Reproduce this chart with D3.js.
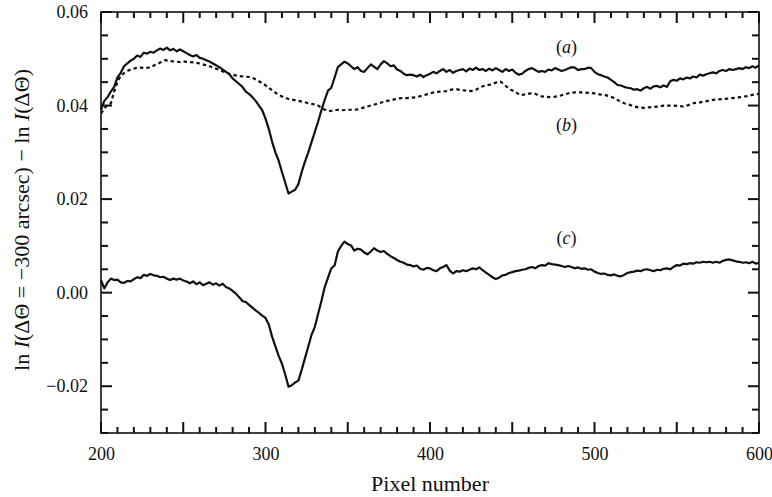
<!DOCTYPE html>
<html>
<head>
<meta charset="utf-8">
<script src="https://cdn.jsdelivr.net/npm/d3@7"></script>
<style>
  html, body { margin: 0; padding: 0; background: #fff; }
  svg { display: block; }
  text { font-family: "Liberation Serif", "Times New Roman", serif; fill: #111; }
</style>
</head>
<body>
<svg id="chart" width="772" height="497"></svg>
<script>
// Pixel grid shared by traces (a) and (c)
const pixelGrid = d3.range(200, 601, 2);

// Trace (a): solid upper curve
const traceA = [
  0.0391,0.0410,0.0418,0.0430,0.0440,0.0460,0.0470,0.0484,0.0490,0.0496,
  0.0500,0.0507,0.0504,0.0513,0.0511,0.0515,0.0513,0.0518,0.0522,0.0519,
  0.0524,0.0518,0.0521,0.0516,0.0520,0.0516,0.0512,0.0508,0.0505,0.0508,
  0.0502,0.0500,0.0497,0.0494,0.0490,0.0486,0.0482,0.0477,0.0472,0.0467,
  0.0458,0.0452,0.0446,0.0440,0.0430,0.0425,0.0418,0.0410,0.0400,0.0390,
  0.0372,0.0350,0.0323,0.0300,0.0282,0.0258,0.0235,0.0212,0.0216,0.0220,
  0.0232,0.0258,0.0280,0.0300,0.0322,0.0344,0.0366,0.0390,0.0412,0.0432,
  0.0438,0.0460,0.0482,0.0488,0.0494,0.0490,0.0484,0.0478,0.0482,0.0474,
  0.0472,0.0480,0.0488,0.0483,0.0478,0.0488,0.0495,0.0490,0.0484,0.0486,
  0.0477,0.0474,0.0468,0.0465,0.0466,0.0465,0.0462,0.0466,0.0461,0.0465,
  0.0468,0.0472,0.0469,0.0474,0.0478,0.0472,0.0476,0.0470,0.0474,0.0476,
  0.0478,0.0473,0.0479,0.0476,0.0481,0.0476,0.0478,0.0474,0.0479,0.0475,
  0.0480,0.0476,0.0472,0.0478,0.0474,0.0477,0.0470,0.0466,0.0468,0.0474,
  0.0478,0.0480,0.0476,0.0472,0.0474,0.0472,0.0477,0.0475,0.0480,0.0477,
  0.0474,0.0476,0.0479,0.0482,0.0481,0.0476,0.0478,0.0478,0.0481,0.0480,
  0.0472,0.0467,0.0465,0.0462,0.0460,0.0455,0.0450,0.0444,0.0443,0.0440,
  0.0438,0.0437,0.0434,0.0435,0.0432,0.0437,0.0440,0.0436,0.0441,0.0442,
  0.0439,0.0443,0.0440,0.0452,0.0455,0.0453,0.0458,0.0456,0.0460,0.0458,
  0.0462,0.0460,0.0466,0.0464,0.0467,0.0469,0.0471,0.0469,0.0474,0.0476,
  0.0474,0.0478,0.0476,0.0478,0.0480,0.0478,0.0482,0.0480,0.0484,0.0481,
  0.0486
];

// Trace (b): dotted curve, sampled at its own pixels
const pixelsB = [
  200,203,206,208,210,212,215,218,221,224,227,230,233,236,239,242,245,248,251,254,
  257,260,263,266,269,272,275,278,281,284,287,290,293,296,299,302,305,308,311,314,
  317,320,323,326,329,332,335,338,341,344,347,350,353,356,359,362,365,368,371,374,
  377,380,383,386,389,392,395,398,401,404,407,410,413,416,419,422,425,428,431,434,
  437,440,443,446,449,452,455,458,461,464,467,470,473,476,479,482,485,488,491,494,
  497,500,503,506,509,512,515,518,521,524,527,530,533,536,539,542,545,548,551,554,
  557,560,563,566,569,572,575,578,581,584,587,590,593,596,600
];
const traceB = [
  0.0383,0.0398,0.0405,0.0430,0.0450,0.0464,0.0472,0.0477,0.0480,0.0481,
  0.0480,0.0482,0.0487,0.0492,0.0497,0.0495,0.0494,0.0493,0.0494,0.0493,
  0.0492,0.0490,0.0487,0.0484,0.0480,0.0476,0.0472,0.0468,0.0465,0.0463,
  0.0462,0.0461,0.0458,0.0452,0.0446,0.0438,0.0430,0.0423,0.0418,0.0414,
  0.0412,0.0410,0.0408,0.0405,0.0403,0.0400,0.0393,0.0388,0.0389,0.0391,
  0.0390,0.0391,0.0391,0.0392,0.0395,0.0398,0.0401,0.0404,0.0407,0.0410,
  0.0412,0.0415,0.0416,0.0416,0.0417,0.0418,0.0421,0.0424,0.0427,0.0429,
  0.0430,0.0431,0.0434,0.0435,0.0433,0.0432,0.0431,0.0434,0.0440,0.0443,
  0.0445,0.0449,0.0451,0.0442,0.0434,0.0429,0.0422,0.0424,0.0426,0.0425,
  0.0420,0.0419,0.0418,0.0419,0.0421,0.0424,0.0427,0.0428,0.0428,0.0428,
  0.0427,0.0426,0.0424,0.0423,0.0420,0.0416,0.0410,0.0405,0.0402,0.0398,
  0.0396,0.0395,0.0396,0.0397,0.0398,0.0400,0.0400,0.0400,0.0399,0.0398,
  0.0401,0.0405,0.0406,0.0408,0.0410,0.0412,0.0413,0.0414,0.0415,0.0416,
  0.0417,0.0419,0.0420,0.0423,0.0425
];

// Trace (c): solid lower curve
const traceC = [
  0.0027,0.0009,0.0022,0.0030,0.0027,0.0028,0.0022,0.0021,0.0025,0.0024,
  0.0029,0.0033,0.0031,0.0038,0.0036,0.0040,0.0037,0.0036,0.0033,0.0034,
  0.0030,0.0027,0.0030,0.0028,0.0030,0.0026,0.0024,0.0020,0.0024,0.0018,
  0.0022,0.0016,0.0019,0.0022,0.0017,0.0020,0.0015,0.0019,0.0012,0.0009,
  0.0004,-0.0002,-0.0010,-0.0018,-0.0020,-0.0026,-0.0032,-0.0038,-0.0043,-0.0049,
  -0.0054,-0.0068,-0.0094,-0.0115,-0.0135,-0.0152,-0.0175,-0.0201,-0.0198,-0.0192,
  -0.0188,-0.0165,-0.0140,-0.0115,-0.0090,-0.0073,-0.0045,-0.0018,0.0012,0.0032,
  0.0052,0.0058,0.0088,0.0100,0.0109,0.0104,0.0101,0.0090,0.0094,0.0092,
  0.0086,0.0082,0.0088,0.0095,0.0090,0.0087,0.0089,0.0083,0.0078,0.0074,
  0.0070,0.0066,0.0064,0.0060,0.0059,0.0056,0.0058,0.0051,0.0049,0.0053,
  0.0052,0.0048,0.0046,0.0052,0.0055,0.0059,0.0047,0.0041,0.0046,0.0045,
  0.0048,0.0046,0.0049,0.0052,0.0050,0.0054,0.0048,0.0043,0.0038,0.0033,
  0.0029,0.0032,0.0037,0.0038,0.0042,0.0044,0.0046,0.0047,0.0049,0.0050,
  0.0053,0.0055,0.0052,0.0057,0.0059,0.0058,0.0063,0.0061,0.0060,0.0059,
  0.0057,0.0055,0.0057,0.0055,0.0052,0.0054,0.0051,0.0052,0.0049,0.0050,
  0.0045,0.0042,0.0040,0.0041,0.0038,0.0037,0.0039,0.0036,0.0035,0.0038,
  0.0042,0.0044,0.0045,0.0047,0.0046,0.0049,0.0050,0.0048,0.0046,0.0049,
  0.0048,0.0051,0.0052,0.0050,0.0055,0.0059,0.0058,0.0062,0.0061,0.0063,
  0.0062,0.0065,0.0064,0.0066,0.0065,0.0066,0.0064,0.0066,0.0064,0.0068,
  0.0070,0.0071,0.0069,0.0067,0.0066,0.0064,0.0065,0.0063,0.0066,0.0062,
  0.0064
];

// Axis ticks
const xTickLabels = [200, 300, 400, 500, 600];
const yTickLabels = [-0.02, 0.00, 0.02, 0.04, 0.06];
const curveNames = ["a", "b", "c"];

(function draw() {
  const svg = d3.select("#chart");
  const L = 101, R = 759, T = 12, B = 433;
  const tw = 2; // tick thickness

  const x = d3.scaleLinear().domain([200, 600]).range([L, R]);
  const y = d3.scaleLinear().domain([-0.03, 0.06]).range([B, T]);

  // Inward tick marks on all four sides; every 50 pixels and every
  // labelled value the tick is longer
  const xTicks = d3.range(200, 601, 10).map(v => ({ v, len: v % 50 === 0 ? 11 : 6 }));
  const yTicks = d3.range(-6, 13).map(k => ({ v: k * 0.005, len: k % 4 === 0 ? 11 : 7 }));
  const tg = svg.append("g").attr("fill", "#111");
  tg.selectAll(null).data(xTicks).enter().append("rect")
    .attr("x", d => x(d.v) - tw / 2).attr("width", tw)
    .attr("y", d => B - d.len).attr("height", d => d.len);
  tg.selectAll(null).data(xTicks).enter().append("rect")
    .attr("x", d => x(d.v) - tw / 2).attr("width", tw)
    .attr("y", T).attr("height", d => d.len);
  tg.selectAll(null).data(yTicks).enter().append("rect")
    .attr("y", d => y(d.v) - tw / 2).attr("height", tw)
    .attr("x", L).attr("width", d => d.len);
  tg.selectAll(null).data(yTicks).enter().append("rect")
    .attr("y", d => y(d.v) - tw / 2).attr("height", tw)
    .attr("x", d => R - d.len).attr("width", d => d.len);

  // Tick labels
  const fmtY = v => (v < -1e-9 ? "\u2212" : "") + Math.abs(v).toFixed(2);
  const xLab = svg.append("g").attr("transform", `translate(0,${B})`)
    .call(d3.axisBottom(x).tickValues(xTickLabels).tickSize(0).tickPadding(14).tickFormat(d3.format("d")));
  xLab.select(".domain").remove();
  xLab.selectAll("text").attr("font-size", 18).attr("font-family", "Liberation Serif").attr("fill", "#111");

  const yLab = svg.append("g").attr("transform", `translate(${L},0)`)
    .call(d3.axisLeft(y).tickValues(yTickLabels).tickSize(0).tickPadding(13).tickFormat(fmtY));
  yLab.select(".domain").remove();
  yLab.selectAll("text").attr("font-size", 18).attr("font-family", "Liberation Serif").attr("fill", "#111");

  // Frame
  svg.append("rect")
    .attr("x", L).attr("y", T)
    .attr("width", R - L).attr("height", B - T)
    .attr("fill", "none").attr("stroke", "#111").attr("stroke-width", 1.6);

  // Curves
  const line = d3.line().x(d => x(d[0])).y(d => y(d[1]));
  const seriesA = pixelGrid.map((p, i) => [p, traceA[i]]);
  const seriesB = pixelsB.map((p, i) => [p, traceB[i]]);
  const seriesC = pixelGrid.map((p, i) => [p, traceC[i]]);

  svg.append("path").datum(seriesB).attr("d", line)
    .attr("fill", "none").attr("stroke", "#111").attr("stroke-width", 2.2)
    .attr("stroke-dasharray", "3.5,3");
  svg.append("path").datum(seriesA).attr("d", line)
    .attr("fill", "none").attr("stroke", "#111").attr("stroke-width", 2.2)
    .attr("stroke-linejoin", "round");
  svg.append("path").datum(seriesC).attr("d", line)
    .attr("fill", "none").attr("stroke", "#111").attr("stroke-width", 2.2)
    .attr("stroke-linejoin", "round");

  // Curve labels
  const labelSpots = [[483, 0.0525], [483, 0.0358], [483, 0.0117]];
  curveNames.forEach((name, i) => {
    const t = svg.append("text")
      .attr("x", x(labelSpots[i][0])).attr("y", y(labelSpots[i][1]))
      .attr("text-anchor", "middle").attr("dominant-baseline", "central")
      .attr("font-size", 18);
    t.append("tspan").text("(");
    t.append("tspan").attr("font-style", "italic").text(name);
    t.append("tspan").text(")");
  });

  // Axis titles
  svg.append("text")
    .attr("x", (L + R) / 2).attr("y", 491)
    .attr("text-anchor", "middle").attr("font-size", 22)
    .text("Pixel number");

  const yt = svg.append("text")
    .attr("transform", `translate(29,220) rotate(-90)`)
    .attr("text-anchor", "middle").attr("font-size", 22);
  yt.append("tspan").text("ln ");
  yt.append("tspan").attr("font-style", "italic").text("I");
  yt.append("tspan").text("(\u0394\u0398 = \u2212300 arcsec) \u2212 ln ");
  yt.append("tspan").attr("font-style", "italic").text("I");
  yt.append("tspan").text("(\u0394\u0398)");
})();
</script>
</body>
</html>
